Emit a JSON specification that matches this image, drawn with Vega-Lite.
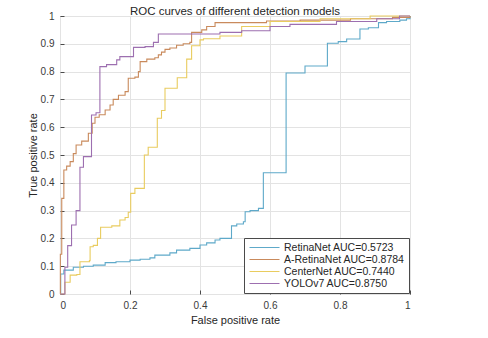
{
  "$schema": "https://vega.github.io/schema/vega-lite/v6.json",
  "width": 350,
  "height": 278,
  "autosize": {"type": "none"},
  "padding": {"left": 60, "top": 16, "right": 78, "bottom": 44},
  "title": {"text": "ROC curves of different detection models", "fontSize": 11.5, "font": "Liberation Sans", "fontWeight": "normal", "color": "#262626", "offset": -6},
  "config": {
    "view": {"stroke": "#4a4a4a", "strokeWidth": 1},
    "axis": {"labelFont": "Liberation Sans", "labelFontSize": 10, "labelColor": "#3a3a3a", "titleFont": "Liberation Sans", "titleFontSize": 11, "titleFontWeight": "normal", "titleColor": "#262626", "gridColor": "#e3e3e3", "gridOpacity": 1, "domain": false, "tickColor": "#4a4a4a", "tickSize": -4, "labelPadding": 10, "format": "~g"}
  },
  "datasets": {
    "roc": [
      {"model": "RetinaNet AUC=0.5723", "fpr": 0, "tpr": 0},
      {"model": "RetinaNet AUC=0.5723", "fpr": 0.002, "tpr": 0.072},
      {"model": "RetinaNet AUC=0.5723", "fpr": 0.011, "tpr": 0.086},
      {"model": "RetinaNet AUC=0.5723", "fpr": 0.038, "tpr": 0.096},
      {"model": "RetinaNet AUC=0.5723", "fpr": 0.067, "tpr": 0.1},
      {"model": "RetinaNet AUC=0.5723", "fpr": 0.095, "tpr": 0.104},
      {"model": "RetinaNet AUC=0.5723", "fpr": 0.129, "tpr": 0.113},
      {"model": "RetinaNet AUC=0.5723", "fpr": 0.16, "tpr": 0.116},
      {"model": "RetinaNet AUC=0.5723", "fpr": 0.2, "tpr": 0.122},
      {"model": "RetinaNet AUC=0.5723", "fpr": 0.229, "tpr": 0.125},
      {"model": "RetinaNet AUC=0.5723", "fpr": 0.257, "tpr": 0.13},
      {"model": "RetinaNet AUC=0.5723", "fpr": 0.271, "tpr": 0.14},
      {"model": "RetinaNet AUC=0.5723", "fpr": 0.314, "tpr": 0.148},
      {"model": "RetinaNet AUC=0.5723", "fpr": 0.333, "tpr": 0.158},
      {"model": "RetinaNet AUC=0.5723", "fpr": 0.371, "tpr": 0.164},
      {"model": "RetinaNet AUC=0.5723", "fpr": 0.4, "tpr": 0.176},
      {"model": "RetinaNet AUC=0.5723", "fpr": 0.419, "tpr": 0.184},
      {"model": "RetinaNet AUC=0.5723", "fpr": 0.443, "tpr": 0.194},
      {"model": "RetinaNet AUC=0.5723", "fpr": 0.457, "tpr": 0.2},
      {"model": "RetinaNet AUC=0.5723", "fpr": 0.49, "tpr": 0.245},
      {"model": "RetinaNet AUC=0.5723", "fpr": 0.505, "tpr": 0.252},
      {"model": "RetinaNet AUC=0.5723", "fpr": 0.524, "tpr": 0.26},
      {"model": "RetinaNet AUC=0.5723", "fpr": 0.529, "tpr": 0.296},
      {"model": "RetinaNet AUC=0.5723", "fpr": 0.543, "tpr": 0.3},
      {"model": "RetinaNet AUC=0.5723", "fpr": 0.567, "tpr": 0.308},
      {"model": "RetinaNet AUC=0.5723", "fpr": 0.581, "tpr": 0.436},
      {"model": "RetinaNet AUC=0.5723", "fpr": 0.646, "tpr": 0.795},
      {"model": "RetinaNet AUC=0.5723", "fpr": 0.7, "tpr": 0.82},
      {"model": "RetinaNet AUC=0.5723", "fpr": 0.764, "tpr": 0.902},
      {"model": "RetinaNet AUC=0.5723", "fpr": 0.795, "tpr": 0.908},
      {"model": "RetinaNet AUC=0.5723", "fpr": 0.819, "tpr": 0.917},
      {"model": "RetinaNet AUC=0.5723", "fpr": 0.857, "tpr": 0.953},
      {"model": "RetinaNet AUC=0.5723", "fpr": 0.881, "tpr": 0.958},
      {"model": "RetinaNet AUC=0.5723", "fpr": 0.91, "tpr": 0.976},
      {"model": "RetinaNet AUC=0.5723", "fpr": 0.933, "tpr": 0.98},
      {"model": "RetinaNet AUC=0.5723", "fpr": 0.971, "tpr": 0.985},
      {"model": "RetinaNet AUC=0.5723", "fpr": 0.99, "tpr": 0.99},
      {"model": "RetinaNet AUC=0.5723", "fpr": 1, "tpr": 1},

      {"model": "A-RetinaNet AUC=0.8784", "fpr": 0, "tpr": 0},
      {"model": "A-RetinaNet AUC=0.8784", "fpr": 0.001, "tpr": 0.143},
      {"model": "A-RetinaNet AUC=0.8784", "fpr": 0.005, "tpr": 0.344},
      {"model": "A-RetinaNet AUC=0.8784", "fpr": 0.011, "tpr": 0.446},
      {"model": "A-RetinaNet AUC=0.8784", "fpr": 0.019, "tpr": 0.46},
      {"model": "A-RetinaNet AUC=0.8784", "fpr": 0.029, "tpr": 0.476},
      {"model": "A-RetinaNet AUC=0.8784", "fpr": 0.038, "tpr": 0.505},
      {"model": "A-RetinaNet AUC=0.8784", "fpr": 0.046, "tpr": 0.536},
      {"model": "A-RetinaNet AUC=0.8784", "fpr": 0.062, "tpr": 0.55},
      {"model": "A-RetinaNet AUC=0.8784", "fpr": 0.081, "tpr": 0.578},
      {"model": "A-RetinaNet AUC=0.8784", "fpr": 0.092, "tpr": 0.614},
      {"model": "A-RetinaNet AUC=0.8784", "fpr": 0.1, "tpr": 0.636},
      {"model": "A-RetinaNet AUC=0.8784", "fpr": 0.112, "tpr": 0.645},
      {"model": "A-RetinaNet AUC=0.8784", "fpr": 0.129, "tpr": 0.662},
      {"model": "A-RetinaNet AUC=0.8784", "fpr": 0.143, "tpr": 0.68},
      {"model": "A-RetinaNet AUC=0.8784", "fpr": 0.152, "tpr": 0.7},
      {"model": "A-RetinaNet AUC=0.8784", "fpr": 0.167, "tpr": 0.715},
      {"model": "A-RetinaNet AUC=0.8784", "fpr": 0.186, "tpr": 0.728},
      {"model": "A-RetinaNet AUC=0.8784", "fpr": 0.195, "tpr": 0.776},
      {"model": "A-RetinaNet AUC=0.8784", "fpr": 0.214, "tpr": 0.78},
      {"model": "A-RetinaNet AUC=0.8784", "fpr": 0.224, "tpr": 0.8},
      {"model": "A-RetinaNet AUC=0.8784", "fpr": 0.229, "tpr": 0.836},
      {"model": "A-RetinaNet AUC=0.8784", "fpr": 0.248, "tpr": 0.845},
      {"model": "A-RetinaNet AUC=0.8784", "fpr": 0.271, "tpr": 0.85},
      {"model": "A-RetinaNet AUC=0.8784", "fpr": 0.281, "tpr": 0.86},
      {"model": "A-RetinaNet AUC=0.8784", "fpr": 0.29, "tpr": 0.87},
      {"model": "A-RetinaNet AUC=0.8784", "fpr": 0.3, "tpr": 0.88},
      {"model": "A-RetinaNet AUC=0.8784", "fpr": 0.314, "tpr": 0.885},
      {"model": "A-RetinaNet AUC=0.8784", "fpr": 0.333, "tpr": 0.895},
      {"model": "A-RetinaNet AUC=0.8784", "fpr": 0.352, "tpr": 0.9},
      {"model": "A-RetinaNet AUC=0.8784", "fpr": 0.371, "tpr": 0.905},
      {"model": "A-RetinaNet AUC=0.8784", "fpr": 0.376, "tpr": 0.941},
      {"model": "A-RetinaNet AUC=0.8784", "fpr": 0.405, "tpr": 0.95},
      {"model": "A-RetinaNet AUC=0.8784", "fpr": 0.419, "tpr": 0.962},
      {"model": "A-RetinaNet AUC=0.8784", "fpr": 0.443, "tpr": 0.976},
      {"model": "A-RetinaNet AUC=0.8784", "fpr": 0.59, "tpr": 0.982},
      {"model": "A-RetinaNet AUC=0.8784", "fpr": 0.686, "tpr": 0.985},
      {"model": "A-RetinaNet AUC=0.8784", "fpr": 0.83, "tpr": 0.99},
      {"model": "A-RetinaNet AUC=0.8784", "fpr": 0.95, "tpr": 0.995},
      {"model": "A-RetinaNet AUC=0.8784", "fpr": 1, "tpr": 1},

      {"model": "CenterNet AUC=0.7440", "fpr": 0, "tpr": 0},
      {"model": "CenterNet AUC=0.7440", "fpr": 0.014, "tpr": 0.042},
      {"model": "CenterNet AUC=0.7440", "fpr": 0.029, "tpr": 0.068},
      {"model": "CenterNet AUC=0.7440", "fpr": 0.048, "tpr": 0.07},
      {"model": "CenterNet AUC=0.7440", "fpr": 0.057, "tpr": 0.116},
      {"model": "CenterNet AUC=0.7440", "fpr": 0.084, "tpr": 0.12},
      {"model": "CenterNet AUC=0.7440", "fpr": 0.086, "tpr": 0.17},
      {"model": "CenterNet AUC=0.7440", "fpr": 0.095, "tpr": 0.175},
      {"model": "CenterNet AUC=0.7440", "fpr": 0.107, "tpr": 0.2},
      {"model": "CenterNet AUC=0.7440", "fpr": 0.116, "tpr": 0.24},
      {"model": "CenterNet AUC=0.7440", "fpr": 0.148, "tpr": 0.245},
      {"model": "CenterNet AUC=0.7440", "fpr": 0.171, "tpr": 0.266},
      {"model": "CenterNet AUC=0.7440", "fpr": 0.186, "tpr": 0.275},
      {"model": "CenterNet AUC=0.7440", "fpr": 0.195, "tpr": 0.294},
      {"model": "CenterNet AUC=0.7440", "fpr": 0.202, "tpr": 0.362},
      {"model": "CenterNet AUC=0.7440", "fpr": 0.214, "tpr": 0.38},
      {"model": "CenterNet AUC=0.7440", "fpr": 0.241, "tpr": 0.5},
      {"model": "CenterNet AUC=0.7440", "fpr": 0.252, "tpr": 0.528},
      {"model": "CenterNet AUC=0.7440", "fpr": 0.278, "tpr": 0.632},
      {"model": "CenterNet AUC=0.7440", "fpr": 0.29, "tpr": 0.66},
      {"model": "CenterNet AUC=0.7440", "fpr": 0.3, "tpr": 0.74},
      {"model": "CenterNet AUC=0.7440", "fpr": 0.335, "tpr": 0.778},
      {"model": "CenterNet AUC=0.7440", "fpr": 0.362, "tpr": 0.845},
      {"model": "CenterNet AUC=0.7440", "fpr": 0.376, "tpr": 0.893},
      {"model": "CenterNet AUC=0.7440", "fpr": 0.4, "tpr": 0.914},
      {"model": "CenterNet AUC=0.7440", "fpr": 0.41, "tpr": 0.918},
      {"model": "CenterNet AUC=0.7440", "fpr": 0.457, "tpr": 0.928},
      {"model": "CenterNet AUC=0.7440", "fpr": 0.519, "tpr": 0.962},
      {"model": "CenterNet AUC=0.7440", "fpr": 0.6, "tpr": 0.98},
      {"model": "CenterNet AUC=0.7440", "fpr": 0.743, "tpr": 0.99},
      {"model": "CenterNet AUC=0.7440", "fpr": 0.886, "tpr": 1},
      {"model": "CenterNet AUC=0.7440", "fpr": 1, "tpr": 1},

      {"model": "YOLOv7 AUC=0.8750", "fpr": 0, "tpr": 0},
      {"model": "YOLOv7 AUC=0.8750", "fpr": 0.014, "tpr": 0.096},
      {"model": "YOLOv7 AUC=0.8750", "fpr": 0.022, "tpr": 0.174},
      {"model": "YOLOv7 AUC=0.8750", "fpr": 0.033, "tpr": 0.248},
      {"model": "YOLOv7 AUC=0.8750", "fpr": 0.046, "tpr": 0.3},
      {"model": "YOLOv7 AUC=0.8750", "fpr": 0.057, "tpr": 0.456},
      {"model": "YOLOv7 AUC=0.8750", "fpr": 0.067, "tpr": 0.494},
      {"model": "YOLOv7 AUC=0.8750", "fpr": 0.09, "tpr": 0.644},
      {"model": "YOLOv7 AUC=0.8750", "fpr": 0.103, "tpr": 0.652},
      {"model": "YOLOv7 AUC=0.8750", "fpr": 0.114, "tpr": 0.818},
      {"model": "YOLOv7 AUC=0.8750", "fpr": 0.133, "tpr": 0.825},
      {"model": "YOLOv7 AUC=0.8750", "fpr": 0.162, "tpr": 0.842},
      {"model": "YOLOv7 AUC=0.8750", "fpr": 0.171, "tpr": 0.854},
      {"model": "YOLOv7 AUC=0.8750", "fpr": 0.21, "tpr": 0.887},
      {"model": "YOLOv7 AUC=0.8750", "fpr": 0.243, "tpr": 0.89},
      {"model": "YOLOv7 AUC=0.8750", "fpr": 0.267, "tpr": 0.905},
      {"model": "YOLOv7 AUC=0.8750", "fpr": 0.281, "tpr": 0.935},
      {"model": "YOLOv7 AUC=0.8750", "fpr": 0.457, "tpr": 0.941},
      {"model": "YOLOv7 AUC=0.8750", "fpr": 0.519, "tpr": 0.947},
      {"model": "YOLOv7 AUC=0.8750", "fpr": 0.6, "tpr": 0.962},
      {"model": "YOLOv7 AUC=0.8750", "fpr": 0.657, "tpr": 0.97},
      {"model": "YOLOv7 AUC=0.8750", "fpr": 0.79, "tpr": 0.98},
      {"model": "YOLOv7 AUC=0.8750", "fpr": 0.905, "tpr": 0.99},
      {"model": "YOLOv7 AUC=0.8750", "fpr": 0.97, "tpr": 1},
      {"model": "YOLOv7 AUC=0.8750", "fpr": 1, "tpr": 1}
    ]
  },
  "data": {"name": "roc"},
  "mark": {"type": "line", "interpolate": "step-after", "strokeWidth": 1.1},
  "encoding": {
    "x": {"field": "fpr", "type": "quantitative", "scale": {"domain": [0, 1], "nice": false},
      "axis": {"title": "False positive rate", "values": [0, 0.2, 0.4, 0.6, 0.8, 1], "titlePadding": 4}},
    "y": {"field": "tpr", "type": "quantitative", "scale": {"domain": [0, 1], "nice": false},
      "axis": {"title": "True positive rate", "values": [0, 0.1, 0.2, 0.3, 0.4, 0.5, 0.6, 0.7, 0.8, 0.9, 1], "titlePadding": 2}},
    "color": {"field": "model", "type": "nominal",
      "scale": {"domain": ["RetinaNet AUC=0.5723", "A-RetinaNet AUC=0.8784", "CenterNet AUC=0.7440", "YOLOv7 AUC=0.8750"],
        "range": ["#5ea9c9", "#c98a5c", "#e9cc5f", "#9d6fb0"]},
      "legend": {"title": null, "orient": "bottom-right", "offset": 1, "strokeColor": "#4a4a4a", "fillColor": "#ffffff", "padding": 4,
        "symbolType": "M-3,0H3", "symbolSize": 100, "symbolStrokeWidth": 1, "symbolOffset": 11, "labelFont": "Arial", "labelFontSize": 10.5, "labelColor": "#262626", "labelOffset": 14, "rowPadding": 1, "columnPadding": 0}}
  }
}
